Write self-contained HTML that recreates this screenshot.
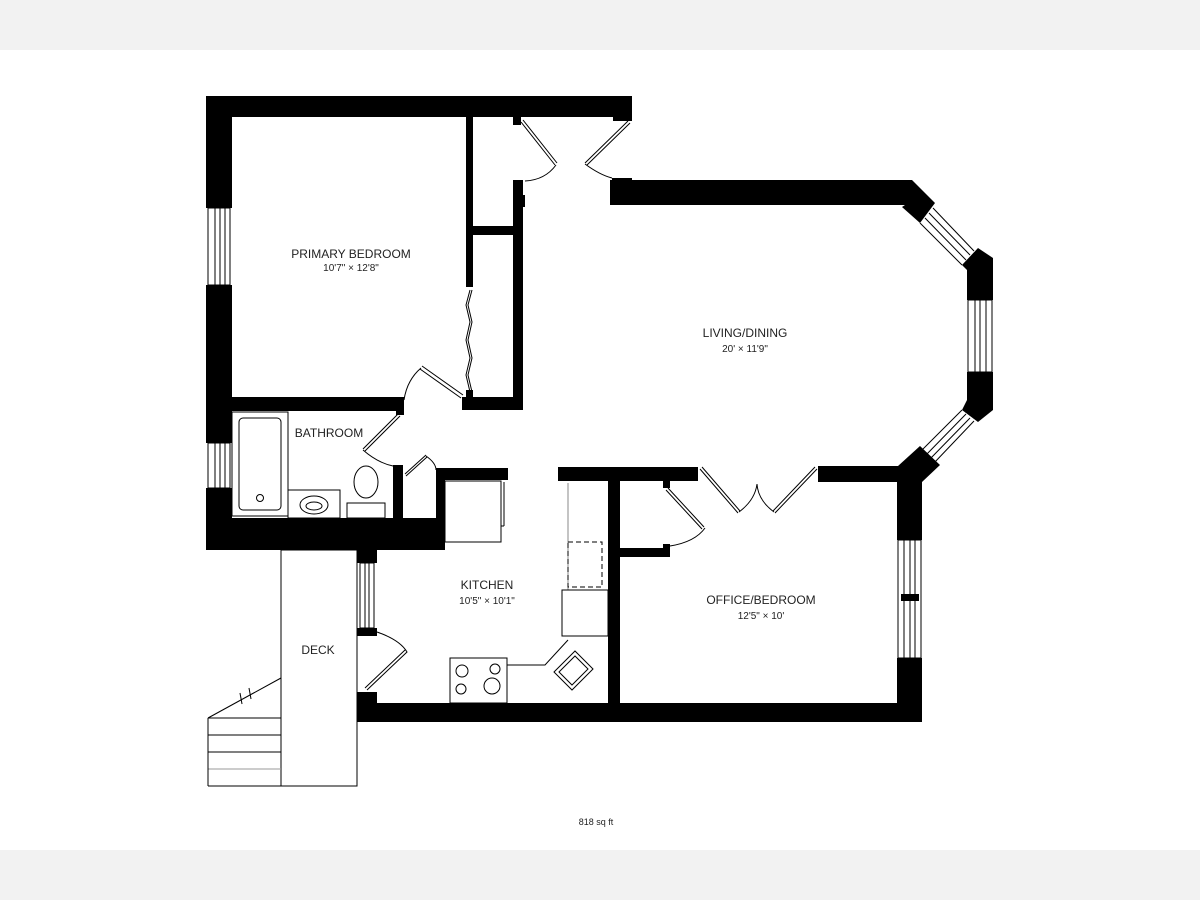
<!DOCTYPE html>
<html><head><meta charset="utf-8"><style>
html,body{margin:0;padding:0;background:#fff;}
svg{display:block;}
text{font-family:"Liberation Sans","DejaVu Sans",sans-serif;fill:#222;text-anchor:middle;}
</style></head><body>
<svg width="1200" height="900" viewBox="0 0 1200 900" xmlns="http://www.w3.org/2000/svg">
<rect x="0" y="0" width="1200" height="900" fill="#fff"/>
<rect x="0" y="0" width="1200" height="50" fill="#f2f2f2"/>
<rect x="0" y="850" width="1200" height="50" fill="#f2f2f2"/>

<g fill="#000">
<!-- top wall -->
<rect x="206" y="96" width="426" height="21"/>
<rect x="613" y="117" width="19" height="4"/>
<rect x="513" y="117" width="8" height="8"/>
<!-- left wall -->
<rect x="206" y="96" width="26" height="112"/>
<rect x="206" y="285" width="26" height="158"/>
<rect x="206" y="488" width="26" height="62"/>
<!-- bathroom bottom slab -->
<rect x="206" y="518" width="239" height="32"/>
<rect x="357" y="540" width="20" height="23"/>
<!-- bedroom bottom wall -->
<rect x="232" y="397" width="172" height="14"/>
<rect x="396" y="411" width="8" height="4"/>
<!-- closet -->
<rect x="466" y="117" width="7" height="170"/>
<rect x="462" y="397" width="61" height="13"/>
<rect x="466" y="390" width="7" height="10"/>
<rect x="513" y="180" width="10" height="230"/>
<rect x="520" y="195" width="5" height="12"/>
<rect x="473" y="226" width="40" height="9"/>
<!-- living top wall -->
<rect x="610" y="180" width="300" height="25"/>
<rect x="612" y="178" width="20" height="4"/>
<polygon points="905,180 912,180 935,203 920,223 902,207 905,205"/>
<!-- bay blocks -->
<polygon points="962,265 978,248 993,258 993,300 967,300 967,270"/>
<polygon points="967,372 993,372 993,410 978,422 962,410 967,400"/>
<polygon points="898,466 920,446 940,465 922,482 922,540 897,540 897,482"/>
<rect x="818" y="466" width="90" height="16"/>
<!-- office right wall -->
<rect x="897" y="658" width="25" height="64"/>
<rect x="901" y="594" width="18" height="7"/>
<!-- living/office/kitchen wall -->
<rect x="558" y="467" width="140" height="14"/>
<rect x="608" y="467" width="12" height="240"/>
<rect x="620" y="548" width="50" height="9"/>
<rect x="663" y="481" width="7" height="7"/>
<rect x="663" y="544" width="7" height="6"/>
<!-- bottom wall -->
<rect x="357" y="703" width="565" height="19"/>
<rect x="357" y="692" width="20" height="12"/>
<rect x="357" y="628" width="20" height="8"/>
<!-- bathroom interior walls -->
<rect x="393" y="465" width="10" height="53"/>
<rect x="436" y="468" width="72" height="12"/>
<rect x="436" y="480" width="9" height="40"/>
</g>

<g fill="none" stroke="#000" stroke-width="1">
<!-- windows -->
<rect x="208" y="208" width="22" height="77"/>
<line x1="215" y1="208" x2="215" y2="285"/><line x1="220" y1="208" x2="220" y2="285"/><line x1="225" y1="208" x2="225" y2="285"/>
<rect x="208" y="443" width="22" height="45"/>
<line x1="215" y1="443" x2="215" y2="488"/><line x1="220" y1="443" x2="220" y2="488"/><line x1="225" y1="443" x2="225" y2="488"/>
<rect x="360" y="563" width="14" height="65"/>
<line x1="365" y1="563" x2="365" y2="628"/><line x1="369" y1="563" x2="369" y2="628"/>
<rect x="898" y="540" width="23" height="118"/>
<line x1="904" y1="540" x2="904" y2="658"/><line x1="910" y1="540" x2="910" y2="658"/><line x1="915" y1="540" x2="915" y2="658"/>
<rect x="968" y="300" width="24" height="72"/>
<line x1="975" y1="300" x2="975" y2="372"/><line x1="980" y1="300" x2="980" y2="372"/><line x1="986" y1="300" x2="986" y2="372"/>
<line x1="920" y1="223" x2="962" y2="265"/><line x1="925" y1="218" x2="966" y2="260"/><line x1="929" y1="213" x2="970" y2="255"/><line x1="933" y1="208" x2="974" y2="251"/>
<line x1="962" y1="410" x2="920" y2="452"/><line x1="966" y1="414" x2="925" y2="456"/><line x1="970" y1="418" x2="929" y2="460"/><line x1="974" y1="421" x2="934" y2="463"/>

<!-- entry doors -->
<path d="M521,122 L555,165 M523,120 L557,163"/>
<path d="M525,181 Q545,180 556,165"/>
<path d="M628,121 L585,163 M630,123 L587,165"/>
<path d="M585,164 Q600,175 612,178"/>
<!-- bedroom door -->
<path d="M463,395 L422,366 M461,398 L420,369"/>
<path d="M421,368 Q407,380 404,400"/>
<!-- bifold -->
<path d="M470,290 L466,305 L470,322 L466,340 L470,358 L466,375 L470,392"/>
<path d="M472,290 L468,305 L472,322 L468,340 L472,358 L468,375 L472,392"/>
<!-- bathroom door -->
<path d="M398,414 L363,449 M400,416 L365,451"/>
<path d="M363,450 Q378,463 393,466"/>
<!-- closet door small -->
<path d="M405,474 L426,455 M406,476 L427,457"/>
<path d="M426,456 Q436,463 436,470"/>
<!-- kitchen door -->
<path d="M377,632 Q400,640 407,652 L367,690 M405,650 L365,688"/>
<!-- office doors -->
<path d="M700,469 L738,513 M702,467 L740,511"/>
<path d="M817,469 L775,513 M815,467 L773,511"/>
<path d="M739,512 Q755,500 757,484 Q758,500 774,512"/>
<path d="M668,488 L704,527 M666,490 L702,529"/>
<path d="M670,546 Q695,542 705,528"/>

<!-- bathroom fixtures -->
<rect x="232" y="412" width="56" height="104"/>
<rect x="239" y="418" width="42" height="92" rx="4"/>
<circle cx="260" cy="498" r="3.5"/>
<rect x="288" y="490" width="52" height="28"/>
<ellipse cx="314" cy="505" rx="14" ry="9"/><ellipse cx="314" cy="506" rx="8" ry="4"/>
<rect x="347" y="503" width="38" height="15"/>
<ellipse cx="366" cy="482" rx="12" ry="16"/>
<rect x="445" y="481" width="56" height="61"/>
<line x1="504" y1="482" x2="504" y2="526"/><line x1="501" y1="526" x2="504" y2="526"/>

<!-- kitchen -->
<line x1="568" y1="483" x2="568" y2="590" stroke="#888"/>
<rect x="568" y="542" width="34" height="45" stroke-dasharray="5,3"/>
<rect x="562" y="590" width="46" height="46"/>
<rect x="450" y="658" width="57" height="45"/>
<circle cx="462" cy="671" r="6"/><circle cx="495" cy="669" r="5"/><circle cx="461" cy="689" r="5"/><circle cx="492" cy="686" r="8"/>
<path d="M507,665 L545,665 L568,640"/>
<polygon points="554,672 575,651 593,669 572,690"/>
<polygon points="559,672 575,656 588,669 572,685"/>

<!-- deck & stairs -->
<rect x="281" y="550" width="76" height="236"/>
<line x1="208" y1="718" x2="281" y2="718"/>
<line x1="208" y1="735" x2="281" y2="735"/>
<line x1="208" y1="752" x2="281" y2="752"/>
<line x1="208" y1="769" x2="281" y2="769" stroke="#999"/>
<line x1="208" y1="786" x2="281" y2="786"/>
<line x1="208" y1="718" x2="208" y2="786"/>
<line x1="208" y1="718" x2="281" y2="678"/>
<line x1="240" y1="693" x2="242" y2="704"/><line x1="249" y1="688" x2="251" y2="699"/>
</g>

<g font-size="12">
<text x="351" y="258">PRIMARY BEDROOM</text>
<text x="351" y="271" font-size="10">10'7" × 12'8"</text>
<text x="329" y="437">BATHROOM</text>
<text x="745" y="337">LIVING/DINING</text>
<text x="745" y="352" font-size="10">20' × 11'9"</text>
<text x="487" y="589">KITCHEN</text>
<text x="487" y="604" font-size="10">10'5" × 10'1"</text>
<text x="761" y="604">OFFICE/BEDROOM</text>
<text x="761" y="619" font-size="10">12'5" × 10'</text>
<text x="318" y="654">DECK</text>
<text x="596" y="825" font-size="9">818 sq ft</text>
</g>
</svg>
</body></html>
